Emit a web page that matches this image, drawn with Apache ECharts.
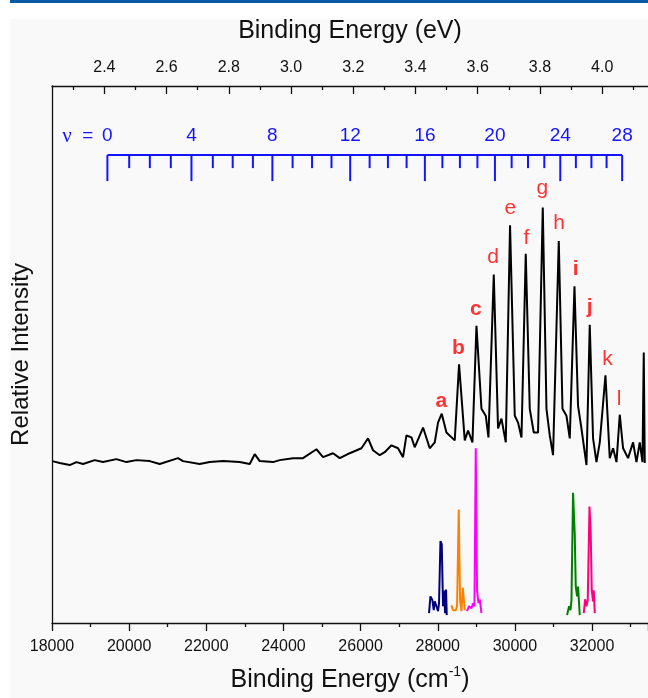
<!DOCTYPE html>
<html>
<head>
<meta charset="utf-8">
<script src="https://cdn.jsdelivr.net/npm/echarts@6/dist/echarts.min.js"></script>
<style>
  html, body { margin: 0; padding: 0; background: #fff; }
  #chart { width: 648px; height: 698px; }
</style>
</head>
<body>
<div id="chart"></div>
<script>
// photoelectron spectrum, x in cm^-1, intensity in arbitrary units
const SPEC_X = [18010, 18200, 18459, 18633, 18804, 19107, 19322, 19670, 19929, 20188, 20533, 20792, 21267, 21396, 21829,
  22089, 22433, 22866, 23126, 23255, 23385, 23730, 23903, 24248, 24507, 24855, 25026, 25285, 25459, 25718, 26021, 26193,
  26322, 26496, 26626, 26799, 26970, 27100, 27188, 27318, 27403, 27619, 27792, 27922, 28007, 28103, 28225, 28440, 28552,
  28700, 28785, 28899, 29003, 29133, 29244, 29314, 29452, 29563, 29651, 29763, 29874, 29996, 30082, 30170, 30281, 30385,
  30489, 30600, 30722, 30818, 30903, 30989, 31137, 31233, 31336, 31422, 31544, 31637, 31725, 31855, 31940, 32026, 32114,
  32200, 32347, 32459, 32545, 32633, 32718, 32804, 32933, 33063, 33151, 33236, 33307, 33340, 33366]
const SPEC_Y = [164, 162, 160, 163, 161, 165, 163, 166, 163, 165, 164, 161, 167, 164, 161,
  163, 164, 163, 161, 171, 164, 163, 165, 167, 167, 176, 168, 172, 167, 172, 177, 187,
  175, 170, 173, 180, 177, 168, 190, 188, 178, 198, 177, 183, 203, 212, 193, 185, 262,
  185, 195, 183, 301, 217, 210, 188, 353, 197, 207, 183, 403, 210, 203, 188, 374, 217,
  193, 193, 421, 217, 190, 170, 387, 217, 210, 187, 341, 220, 197, 160, 302, 187, 163,
  183, 251, 167, 177, 163, 211, 177, 167, 183, 163, 183, 163, 274, 162]

// simulated bands
const NAVY_X = [27774, 27810, 27862, 27896, 27922, 27966, 28007, 28033, 28070, 28103, 28137, 28163, 28189, 28215, 28233]
const NAVY_Y = [10, 27, 23, 13, 22, 17, 12, 20, 83, 80, 17, 33, 10, 34, 8]
const ORANGE_X = [28355, 28396, 28466, 28500, 28544, 28578, 28614, 28648, 28681, 28700]
const ORANGE_Y = [18, 13, 13, 17, 115, 23, 12, 36, 35, 13]
const MAGENTA_X = [28759, 28811, 28874, 28915, 28951, 28985, 29019, 29055, 29089, 29133]
const MAGENTA_Y = [12, 17, 15, 20, 17, 177, 33, 20, 24, 10]
const GREEN_X = [31352, 31404, 31440, 31466, 31507, 31551, 31577, 31611, 31637, 31681]
const GREEN_Y = [8, 17, 13, 23, 132, 90, 37, 27, 37, 8]
const PINK_X = [31785, 31819, 31855, 31888, 31933, 31966, 31992, 32026, 32044, 32070]
const PINK_Y = [10, 24, 17, 23, 118, 90, 33, 22, 33, 10]

// vibrational comb v = 0..28
const COMB_X = [19436, 20001, 20536, 21080, 21615, 22169, 22684, 23208, 23713, 24237, 24741, 25245, 25730, 26234, 26708,
  27192, 27666, 28120, 28574, 29028, 29482, 29915, 30339, 30762, 31176, 31580, 31983, 32376, 32780]
const COMB_LEVEL = 474

// peak letters
const PEAK_LETTERS = ['a', 'b', 'c', 'd', 'e', 'f', 'g', 'h', 'i', 'j', 'k', 'l']
const PEAK_X = [28095, 28536, 28985, 29433, 29884, 30299, 30714, 31145, 31577, 31940, 32399, 32700]
const PEAK_Y = [225, 278, 318, 371, 420, 390, 440, 405, 358, 320, 267, 227]
const PEAK_BOLD = [true, true, true, false, false, false, false, false, true, true, false, false]

const CM_PER_EV = 8065.54
const EV_MAJOR = [2.4, 2.6, 2.8, 3.0, 3.2, 3.4, 3.6, 3.8, 4.0]
const EV_MINOR = [2.3, 2.5, 2.7, 2.9, 3.1, 3.3, 3.5, 3.7, 3.9, 4.1]

const X_MIN = 18000
const X_MAX = 33450
const FONT = '"Liberation Sans", Arial, sans-serif'
const BLUE = '#1414ff'
const INK = '#111'

const zip = (xs, ys) => xs.map((x, i) => [x, ys[i]])

const chart = echarts.init(document.getElementById('chart'), null, { renderer: 'canvas' })

const lineSeries = (xs, ys, color) => ({
  type: 'line',
  data: zip(xs, ys),
  showSymbol: false,
  symbol: 'none',
  lineStyle: { color: color, width: 2 },
  itemStyle: { color: color },
  z: 3,
})

const topAxisBase = {
  type: 'value',
  position: 'top',
  min: X_MIN,
  max: X_MAX,
  splitLine: { show: false },
}

chart.setOption({
  animation: false,
  backgroundColor: '#fff',
  textStyle: { fontFamily: FONT },
  graphic: [
    { type: 'rect', z: -100, shape: { x: 10, y: 19, width: 638, height: 679 }, style: { fill: '#f9f9f9' } },
    { type: 'rect', z: -100, shape: { x: 10, y: 0, width: 638, height: 3 }, style: { fill: '#0b5aa6' } },
  ],
  grid: { left: 52, right: 0, top: 86, bottom: 68, containLabel: false },
  xAxis: [
    {
      type: 'value',
      position: 'bottom',
      min: X_MIN,
      max: X_MAX,
      interval: 2000,
      name: '{t|Binding Energy (cm}{s|-1}{t|)}',
      nameLocation: 'middle',
      nameGap: 42,
      nameTextStyle: {
        rich: {
          t: { fontSize: 25, color: INK, fontFamily: FONT, verticalAlign: 'bottom', lineHeight: 28 },
          s: { fontSize: 14, color: INK, fontFamily: FONT, verticalAlign: 'top', lineHeight: 28 },
        },
      },
      axisLine: { show: true, lineStyle: { color: INK, width: 1.3 } },
      axisTick: { show: true, length: 8, lineStyle: { color: INK, width: 1.3 } },
      minorTick: { show: true, splitNumber: 2, length: 4, lineStyle: { color: INK, width: 1.3 } },
      axisLabel: { color: INK, fontSize: 16, margin: 16, fontFamily: FONT, showMaxLabel: false,
        formatter: (v) => String(v) },
      splitLine: { show: false },
    },
    {
      ...topAxisBase,
      name: 'Binding Energy (eV)',
      nameLocation: 'middle',
      nameGap: 42,
      nameTextStyle: { fontSize: 25, color: INK, fontFamily: FONT },
      axisLine: { show: true, lineStyle: { color: INK, width: 1.3 } },
      axisTick: { show: true, inside: true, length: 8, lineStyle: { color: INK, width: 1.3 },
        customValues: EV_MAJOR.map((e) => e * CM_PER_EV) },
      axisLabel: { color: INK, fontSize: 16, margin: 10, fontFamily: FONT,
        customValues: EV_MAJOR.map((e) => e * CM_PER_EV),
        formatter: (v) => (v / CM_PER_EV).toFixed(1) },
    },
    {
      ...topAxisBase,
      axisLine: { show: false },
      axisTick: { show: true, inside: true, length: 4, lineStyle: { color: INK, width: 1.3 },
        customValues: EV_MINOR.map((e) => e * CM_PER_EV) },
      axisLabel: { show: false },
    },
  ],
  yAxis: {
    type: 'value',
    min: 0,
    max: 544,
    name: 'Relative Intensity',
    nameLocation: 'middle',
    nameGap: 19,
    nameTextStyle: { fontSize: 24, color: INK, fontFamily: FONT },
    axisLine: { show: true, lineStyle: { color: INK, width: 1.3 } },
    axisTick: { show: false },
    axisLabel: { show: false },
    splitLine: { show: false },
  },
  series: [
    lineSeries(SPEC_X, SPEC_Y, '#000'),
    lineSeries(NAVY_X, NAVY_Y, '#00007f'),
    lineSeries(ORANGE_X, ORANGE_Y, '#ff8000'),
    lineSeries(MAGENTA_X, MAGENTA_Y, '#ff00ff'),
    lineSeries(GREEN_X, GREEN_Y, '#008000'),
    lineSeries(PINK_X, PINK_Y, '#ff0080'),
    {
      type: 'line',
      data: [[COMB_X[0], COMB_LEVEL], [COMB_X[COMB_X.length - 1], COMB_LEVEL]],
      symbol: 'none',
      lineStyle: { color: BLUE, width: 2 },
      z: 3,
    },
    {
      type: 'custom',
      data: COMB_X.map((x, v) => [x, v]),
      renderItem: (params, api) => {
        const v = api.value(1)
        const p = api.coord([api.value(0), COMB_LEVEL])
        const major = v % 4 === 0
        const children = [{
          type: 'line',
          shape: { x1: p[0], y1: p[1], x2: p[0], y2: p[1] + (major ? 26 : 13) },
          style: { stroke: BLUE, lineWidth: 2 },
        }]
        if (major) {
          children.push({
            type: 'text',
            x: p[0], y: p[1] - 19,
            style: { text: String(v), align: 'center', verticalAlign: 'middle', fill: BLUE,
              fontSize: 19, fontFamily: FONT },
          })
        }
        if (v === 0) {
          children.push({
            type: 'text',
            x: p[0] - 14, y: p[1] - 19,
            style: { text: '{n|ν}  =', align: 'right', verticalAlign: 'middle', fill: BLUE,
              fontSize: 19, fontFamily: FONT,
              rich: { n: { fontSize: 21, fontFamily: '"Liberation Serif", serif', fill: BLUE } } },
          })
        }
        return { type: 'group', children: children }
      },
      z: 4,
    },
    {
      type: 'scatter',
      symbolSize: 0,
      data: PEAK_LETTERS.map((t, i) => ({
        value: [PEAK_X[i], PEAK_Y[i]],
        name: t,
        label: { fontWeight: PEAK_BOLD[i] ? 'bold' : 'normal' },
      })),
      label: {
        show: true,
        position: 'inside',
        formatter: (p) => p.name,
        color: '#ff0000',
        fontSize: 21,
        fontFamily: FONT,
      },
      z: 5,
    },
  ],
})
</script>
</body>
</html>
